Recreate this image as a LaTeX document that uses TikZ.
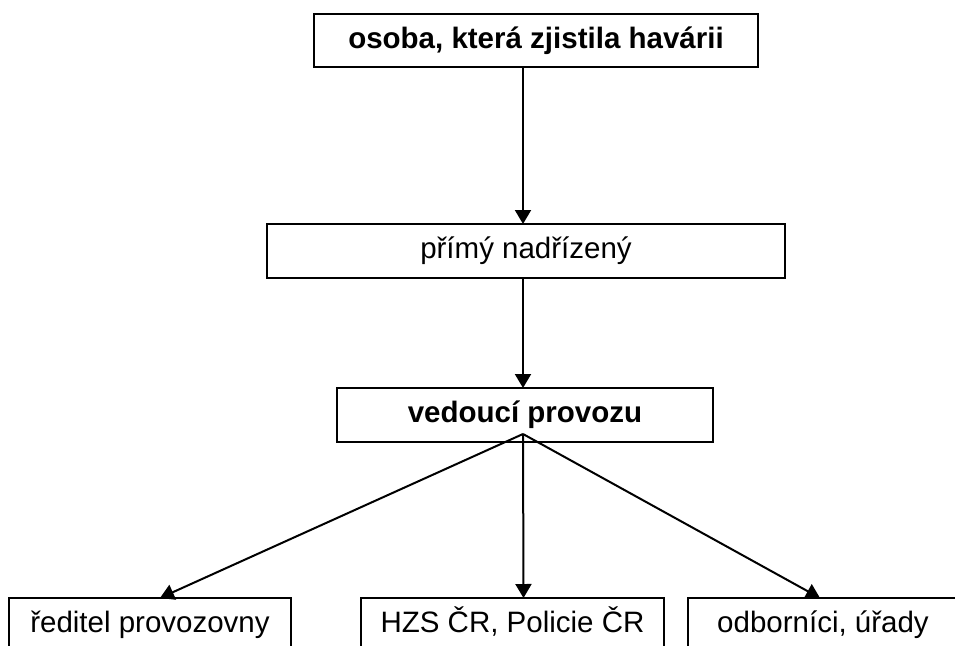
\documentclass[tikz,border=0pt]{standalone}
\usepackage{fontspec}
\setmainfont{Liberation Sans}
\usetikzlibrary{arrows.meta,positioning}

\begin{document}
\begin{tikzpicture}[x=1pt,y=-1pt,node distance=157pt and 23pt,
    every node/.style={font=\fontsize{29.5}{34}\selectfont,align=center},
    box/.style={draw,line width=2pt,inner sep=0pt,outer sep=0pt,minimum height=54pt,
      text height=21pt,text depth=6pt,fill=white},
    arr/.style={line width=2pt,-{Triangle[length=14pt,width=16pt]}}]
    \clip (0,0) rectangle (955,645);
    \node[box,minimum width=444pt,minimum height=53pt] (finder) at (536,40.5) {\textbf{osoba, která zjistila havárii}};
    \node[box,minimum width=518pt,below=157pt of finder,xshift=-10pt] (boss) {přímý nadřízený};
    \node[box,minimum width=376pt,below=110pt of boss,xshift=-1pt] (vedouci) {\textbf{vedoucí provozu}};
    \node[box,minimum width=303pt,below=156pt of vedouci,xshift=-12.5pt] (hzs) {HZS ČR, Policie ČR};
    \node[box,minimum width=282pt,left=70pt of hzs] (reditel) {ředitel provozovny};
    \node[box,minimum width=270pt,right=24pt of hzs] (odbor) {odborníci, úřady};
    \coordinate (hub) at ([xshift=-2pt,yshift=8pt]vedouci.south);
    \draw[arr] (finder.south -| hub) -- (boss.north -| hub);
    \draw[arr] (boss.south -| hub) -- (vedouci.north -| hub);
    \foreach \t/\dx in {reditel/10,hzs/11,odbor/-3}{\draw[arr] (hub) -- ([xshift=\dx pt]\t.north);}
  \end{tikzpicture}
\end{document}
